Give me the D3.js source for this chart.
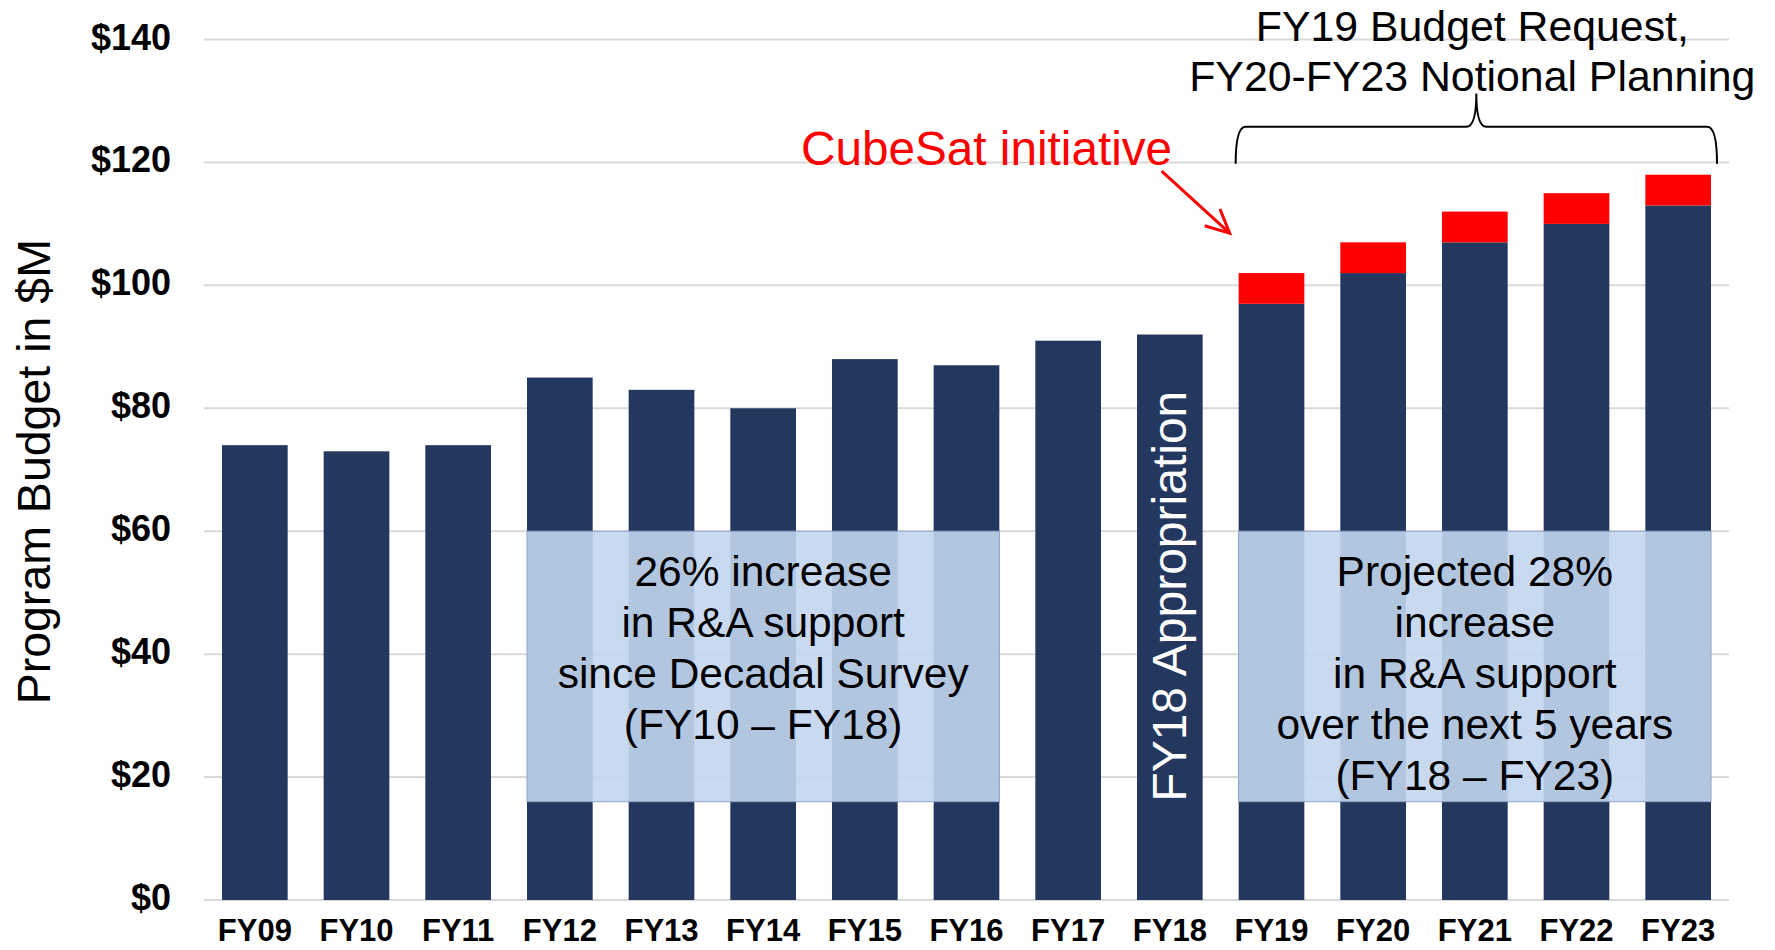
<!DOCTYPE html>
<html>
<head>
<meta charset="utf-8">
<script src="https://cdn.jsdelivr.net/npm/d3@7"></script>
<style>
  html, body { margin: 0; padding: 0; background: #fff; }
  svg { display: block; font-family: "Liberation Sans", Arial, sans-serif; }
</style>
</head>
<body>
<div id="chart"></div>
<script>
// ── Data ────────────────────────────────────────────────────────────────
const years = ['FY09', 'FY10', 'FY11', 'FY12', 'FY13', 'FY14', 'FY15', 'FY16',
               'FY17', 'FY18', 'FY19', 'FY20', 'FY21', 'FY22', 'FY23'];
const baseBudget = [74, 73, 74, 85, 83, 80, 88, 87, 91, 92, 97, 102, 107, 110, 113];
const cubesatBudget = [0, 0, 0, 0, 0, 0, 0, 0, 0, 0, 5, 5, 5, 5, 5];
const yTicks = [0, 20, 40, 60, 80, 100, 120, 140];

const boxPast = ['26% increase', 'in R&A support', 'since Decadal Survey', '(FY10 \u2013 FY18)'];
const boxFuture = ['Projected 28%', 'increase', 'in R&A support', 'over the next 5 years', '(FY18 \u2013 FY23)'];
const titleLines = ['FY19 Budget Request,', 'FY20-FY23 Notional Planning'];

const NAVY = '#24375f';
const RED = '#ff0000';

// ── Layout ──────────────────────────────────────────────────────────────
const width = 1775, height = 950;
const plot = { left: 204, right: 1729, top: 39.5, bottom: 900 };

const svg = d3.select('#chart').append('svg')
    .attr('width', width)
    .attr('height', height);

svg.append('rect').attr('width', width).attr('height', height).attr('fill', '#fff');

const x = d3.scaleBand()
    .domain(years)
    .range([plot.left, plot.right])
    .paddingInner(0.354)
    .paddingOuter(0.177);

const y = d3.scaleLinear()
    .domain([0, 140])
    .range([plot.bottom, plot.top]);

// ── Grid ────────────────────────────────────────────────────────────────
svg.append('g')
    .selectAll('line')
    .data(yTicks)
    .join('line')
    .attr('x1', plot.left)
    .attr('x2', plot.right)
    .attr('y1', d => y(d))
    .attr('y2', d => y(d))
    .attr('stroke', '#d9d9d9')
    .attr('stroke-width', 2);

// ── Y axis labels ───────────────────────────────────────────────────────
const yAxis = svg.append('g')
    .attr('transform', `translate(${plot.left - 33},-2)`)
    .call(d3.axisLeft(y).tickValues(yTicks).tickSize(0).tickPadding(0).tickFormat(d => '$' + d));
yAxis.select('.domain').remove();
yAxis.selectAll('text')
    .style('font-size', '36px')
    .style('font-weight', 'bold')
    .style('font-family', '"Liberation Sans", Arial, sans-serif')
    .attr('fill', '#000');

svg.append('text')
    .attr('transform', `translate(50,${(plot.top + plot.bottom) / 2 + 2}) rotate(-90)`)
    .attr('text-anchor', 'middle')
    .style('font-size', '46.5px')
    .attr('fill', '#000')
    .text('Program Budget in $M');

// ── X axis labels ───────────────────────────────────────────────────────
const xAxis = svg.append('g')
    .attr('transform', `translate(0,${plot.bottom})`)
    .call(d3.axisBottom(x).tickSize(0).tickPadding(19));
xAxis.select('.domain').remove();
xAxis.selectAll('text')
    .style('font-size', '31px')
    .style('font-weight', 'bold')
    .style('font-family', '"Liberation Sans", Arial, sans-serif')
    .attr('fill', '#000');

// ── Bars ────────────────────────────────────────────────────────────────
const rows = years.map((yr, i) => ({ yr, base: baseBudget[i], cube: cubesatBudget[i] }));

svg.append('g')
    .selectAll('rect')
    .data(rows)
    .join('rect')
    .attr('x', d => x(d.yr))
    .attr('y', d => y(d.base))
    .attr('width', x.bandwidth())
    .attr('height', d => y(0) - y(d.base))
    .attr('fill', NAVY);

svg.append('g')
    .selectAll('rect')
    .data(rows.filter(d => d.cube > 0))
    .join('rect')
    .attr('x', d => x(d.yr))
    .attr('y', d => y(d.base + d.cube))
    .attr('width', x.bandwidth())
    .attr('height', d => y(d.base) - y(d.base + d.cube))
    .attr('fill', RED);

// ── Overlay boxes ───────────────────────────────────────────────────────
function overlayBox(from, to, lines) {
    const x0 = x(from), x1 = x(to) + x.bandwidth();
    const y0 = y(60), y1 = y(16);
    svg.append('rect')
        .attr('x', x0).attr('y', y0)
        .attr('width', x1 - x0).attr('height', y1 - y0)
        .attr('fill', 'rgb(195,214,238)')
        .attr('fill-opacity', 0.9)
        .attr('stroke', '#8fa6c9')
        .attr('stroke-width', 1);
    const cx = (x0 + x1) / 2;
    svg.append('text')
        .attr('x', cx)
        .attr('y', y0 + 55)
        .attr('text-anchor', 'middle')
        .style('font-size', '42.5px')
        .attr('fill', '#000')
        .selectAll('tspan')
        .data(lines)
        .join('tspan')
        .attr('x', cx)
        .attr('dy', (d, i) => i === 0 ? 0 : 51)
        .text(d => d);
}
overlayBox('FY12', 'FY16', boxPast);
overlayBox('FY19', 'FY23', boxFuture);

// FY18 label inside the bar
svg.append('text')
    .attr('transform', `translate(${x('FY18') + x.bandwidth() / 2 + 16},${y(16)}) rotate(-90)`)
    .attr('text-anchor', 'start')
    .style('font-size', '48px')
    .attr('fill', '#fff')
    .text('FY18 Appropriation');

// ── Brace + planning title ──────────────────────────────────────────────
const bL = x('FY19') - 3, bR = x('FY23') + x.bandwidth() + 6;
const bM = (bL + bR) / 2;
const yEnd = y(119.8), yH = y(125.8), yTip = y(131.2);
const r = 10;
svg.append('path')
    .attr('d', `M${bL},${yEnd} Q${bL},${yH} ${bL + r},${yH} L${bM - r},${yH} Q${bM},${yH} ${bM},${yTip}` +
               ` Q${bM},${yH} ${bM + r},${yH} L${bR - r},${yH} Q${bR},${yH} ${bR},${yEnd}`)
    .attr('fill', 'none')
    .attr('stroke', '#000')
    .attr('stroke-width', 2);

svg.append('text')
    .attr('x', bM - 4)
    .attr('y', 41)
    .attr('text-anchor', 'middle')
    .style('font-size', '42.8px')
    .attr('fill', '#000')
    .selectAll('tspan')
    .data(titleLines)
    .join('tspan')
    .attr('x', bM - 4)
    .attr('dy', (d, i) => i === 0 ? 0 : 50)
    .text(d => d);

// ── CubeSat callout ─────────────────────────────────────────────────────
svg.append('text')
    .attr('x', 801)
    .attr('y', 165)
    .style('font-size', '47.7px')
    .attr('fill', RED)
    .text('CubeSat initiative');

const tip = [x('FY19') - 9, y(108.5)];
const tail = [tip[0] - 68, tip[1] - 62];
const ang = Math.atan2(tip[1] - tail[1], tip[0] - tail[0]);
const hl = 26, ha = 0.45;
svg.append('line')
    .attr('x1', tail[0]).attr('y1', tail[1])
    .attr('x2', tip[0]).attr('y2', tip[1])
    .attr('stroke', RED).attr('stroke-width', 3);
svg.append('path')
    .attr('d', `M${tip[0] - hl * Math.cos(ang - ha)},${tip[1] - hl * Math.sin(ang - ha)} L${tip[0]},${tip[1]} ` +
               `L${tip[0] - hl * Math.cos(ang + ha)},${tip[1] - hl * Math.sin(ang + ha)}`)
    .attr('fill', 'none')
    .attr('stroke', RED)
    .attr('stroke-width', 3);
</script>
</body>
</html>
